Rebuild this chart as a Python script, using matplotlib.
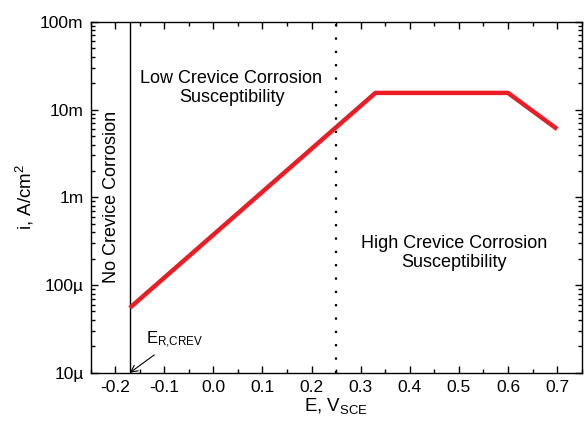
import matplotlib
matplotlib.use('Agg')
import matplotlib.pyplot as plt
from matplotlib.ticker import FixedLocator, LogLocator, MultipleLocator, NullFormatter

plt.rcParams['font.family'] = ['Liberation Sans', 'DejaVu Sans']
plt.rcParams['mathtext.default'] = 'regular'

# data
E_curve = [-0.17, 0.33, 0.60, 0.70]
i_curve = [5.5e-5, 1.55e-2, 1.55e-2, 6.0e-3]
E_rcrev = -0.17
E_border = 0.25
x_ticks = [-0.2, -0.1, 0.0, 0.1, 0.2, 0.3, 0.4, 0.5, 0.6, 0.7]
y_ticks = [1e-5, 1e-4, 1e-3, 1e-2, 1e-1]
y_labels = ['10µ', '100µ', '1m', '10m', '100m']

fig = plt.figure(figsize=(5.84, 4.29), dpi=100)
ax = fig.add_axes([0.155, 0.131, 0.841, 0.818])

ax.plot(E_curve, i_curve, color='#ec1c24', lw=3.2, solid_capstyle='butt', zorder=3)
ax.axvline(E_rcrev, color='black', lw=1.0)
ax.axvline(E_border, color='black', lw=1.6, linestyle=(0, (1, 5)))

ax.set_yscale('log')
ax.set_xlim(-0.25, 0.75)
ax.set_ylim(1e-5, 1e-1)

ax.xaxis.set_major_locator(FixedLocator(x_ticks))
ax.xaxis.set_minor_locator(MultipleLocator(0.05))
ax.set_xticklabels([f'{v:.1f}' for v in x_ticks])
ax.yaxis.set_major_locator(FixedLocator(y_ticks))
ax.yaxis.set_minor_locator(LogLocator(base=10, subs=range(2, 10)))
ax.yaxis.set_minor_formatter(NullFormatter())
ax.set_yticklabels(y_labels)

ax.tick_params(which='both', direction='in', top=True, right=True, labelsize=12.5, width=1)
ax.tick_params(which='major', length=5, pad=5)
ax.tick_params(which='minor', length=3)
for s in ax.spines.values():
    s.set_linewidth(1.0)

ax.set_xlabel('E, V$_{SCE}$', fontsize=13.5, labelpad=1)
ax.set_ylabel('i, A/cm$^2$', fontsize=13.5, labelpad=3)

ax.text(0.037, 10**-1.75, 'Low Crevice Corrosion\nSusceptibility', ha='center', va='center',
        fontsize=13, linespacing=1.15)
ax.text(0.49, 10**-3.63, 'High Crevice Corrosion\nSusceptibility', ha='center', va='center',
        fontsize=13, linespacing=1.15)
ax.text(-0.207, 1e-3, 'No Crevice Corrosion', rotation=90, ha='center', va='center', fontsize=13)

ax.annotate('E$_{R{,}CREV}$', xy=(E_rcrev, 1e-5), xytext=(-0.138, 10**-4.63),
            fontsize=12, ha='left', va='center',
            arrowprops=dict(arrowstyle='->', color='black', lw=0.8, shrinkA=2, shrinkB=0))

fig.savefig('out.png', dpi=100)
